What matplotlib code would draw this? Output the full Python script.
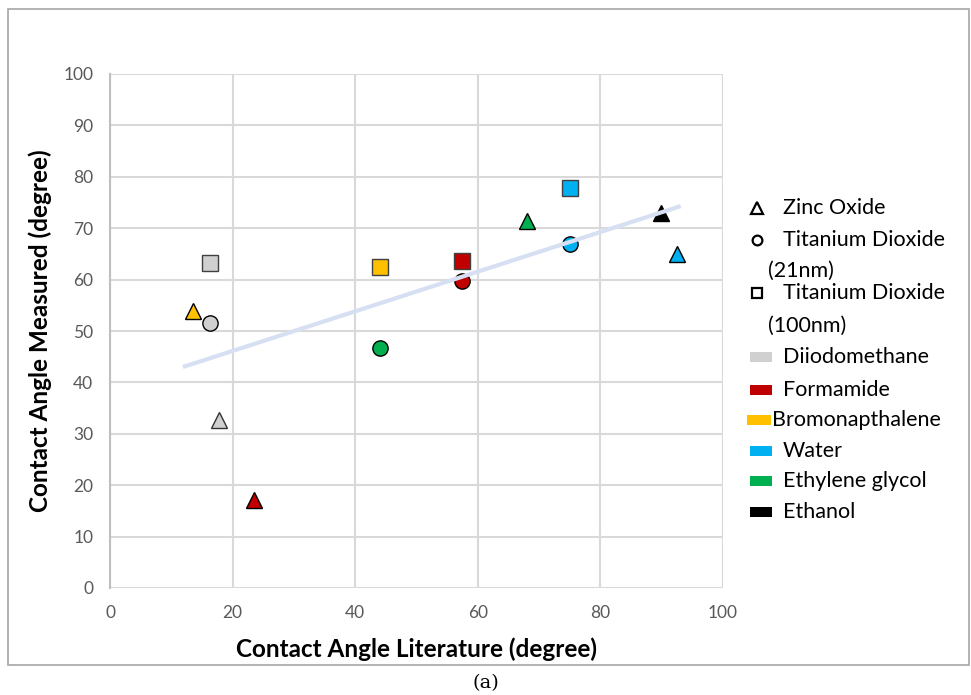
import matplotlib
matplotlib.use("Agg")
import matplotlib.pyplot as plt
from matplotlib.lines import Line2D
from matplotlib.patches import Rectangle

plt.rcParams['font.family'] = ['Lato', 'DejaVu Sans']

# Data: (literature, measured)
liquids = ["Diiodomethane", "Formamide", "Bromonapthalene", "Water", "Ethylene glycol", "Ethanol"]
colors = ["#d0d0d0", "#c00000", "#ffc000", "#00b0f0", "#00b050", "#000000"]

zno_x = [17.8, 23.5, 13.5, 92.5, 68.0, 89.9]
zno_y = [32.7, 17.1, 53.9, 65.0, 71.4, 73.0]
tio21_liq = ["Diiodomethane", "Formamide", "Water", "Ethylene glycol"]
tio21_x = [16.3, 57.4, 75.0, 44.0]
tio21_y = [51.6, 59.7, 66.9, 46.7]
tio100_liq = ["Diiodomethane", "Formamide", "Bromonapthalene", "Water"]
tio100_x = [16.3, 57.4, 44.0, 75.0]
tio100_y = [63.2, 63.6, 62.5, 77.8]

trend_x = [11.9, 93.1]
trend_y = [43.0, 74.3]

xticks = [0, 20, 40, 60, 80, 100]
yticks = [0, 10, 20, 30, 40, 50, 60, 70, 80, 90, 100]

cmap = dict(zip(liquids, colors))

fig = plt.figure(figsize=(9.71, 6.95), dpi=100)
ax = fig.add_axes([110/971, 1-588/695, (723-110)/971, (588-74)/695])

ms = 11
for xv, yv, lq in zip(zno_x, zno_y, liquids):
    ax.plot(xv, yv, marker='^', ms=ms, mfc=cmap[lq], mec='#000000' if lq != "Diiodomethane" else '#333333', mew=1.0, ls='none', zorder=3)
for xv, yv, lq in zip(tio21_x, tio21_y, tio21_liq):
    ax.plot(xv, yv, marker='o', ms=ms, mfc=cmap[lq], mec='#000000', mew=1.0, ls='none', zorder=3)
for xv, yv, lq in zip(tio100_x, tio100_y, tio100_liq):
    ax.plot(xv, yv, marker='s', ms=ms, mfc=cmap[lq], mec='#404040', mew=1.0, ls='none', zorder=3)

ax.plot(trend_x, trend_y, color='#d6e0f2', lw=3, solid_capstyle='butt', zorder=4)

ax.set_xlim(0, 100)
ax.set_ylim(0, 100)
ax.set_xticks(xticks)
ax.set_yticks(yticks)
ax.grid(True, color='#d9d9d9', lw=1.5, zorder=0)
ax.set_axisbelow(True)
for s in ['top', 'right', 'bottom']:
    ax.spines[s].set_visible(False)
ax.spines['left'].set_color('#bfbfbf')
ax.spines['left'].set_linewidth(1.5)
ax.tick_params(length=0, colors='#595959', labelsize=12.5, pad=12)
ax.tick_params(axis='x', pad=12)

ax.set_xlabel("Contact Angle Literature (degree)", fontsize=17.5, fontweight='bold', labelpad=12)
ax.set_ylabel("Contact Angle Measured (degree)", fontsize=17.5, fontweight='bold', labelpad=8)

# outer border
fig.add_artist(Rectangle((8/971, 1-665/695), (969-8)/971, (665-9)/695, transform=fig.transFigure,
                         fill=False, ec='#a6a6a6', lw=1.2))

# Legend (manual)
lfs = 15.5
tx = 783/971
mx = 757/971
def fy(p):
    return 1 - p/695

shape_entries = [("^", "Zinc Oxide", 208), ("o", "Titanium Dioxide", 240), ("s", "Titanium Dioxide", 293)]
for mk, lab, py in shape_entries:
    fig.add_artist(Line2D([mx], [fy(py)], marker=mk, ms=9 if mk == '^' else 7, mfc='white', mec='black', mew=1.6,
                          transform=fig.transFigure, ls='none'))
    fig.text(tx, fy(py), lab, fontsize=lfs, va='center', ha='left')
fig.text(768/971, fy(271), "(21nm)", fontsize=lfs, va='center', ha='left')
fig.text(768/971, fy(326), "(100nm)", fontsize=lfs, va='center', ha='left')

patch_y = [357, 390, 420, 451, 481, 512]
for lq, c, py in zip(liquids, colors, patch_y):
    if lq == "Bromonapthalene":
        x0, w = 747, 24
    else:
        x0, w = 750, 22
    fig.add_artist(Rectangle((x0/971, fy(py) - 5/695), w/971, 10/695, transform=fig.transFigure,
                             fc=c, ec='none'))
    fig.text(tx if lq != "Bromonapthalene" else 772/971, fy(py), lq, fontsize=lfs, va='center', ha='left')

fig.text(486/971, fy(683), "(a)", fontsize=14, ha='center', va='center', family='DejaVu Serif')

fig.savefig("out.png", dpi=100)
